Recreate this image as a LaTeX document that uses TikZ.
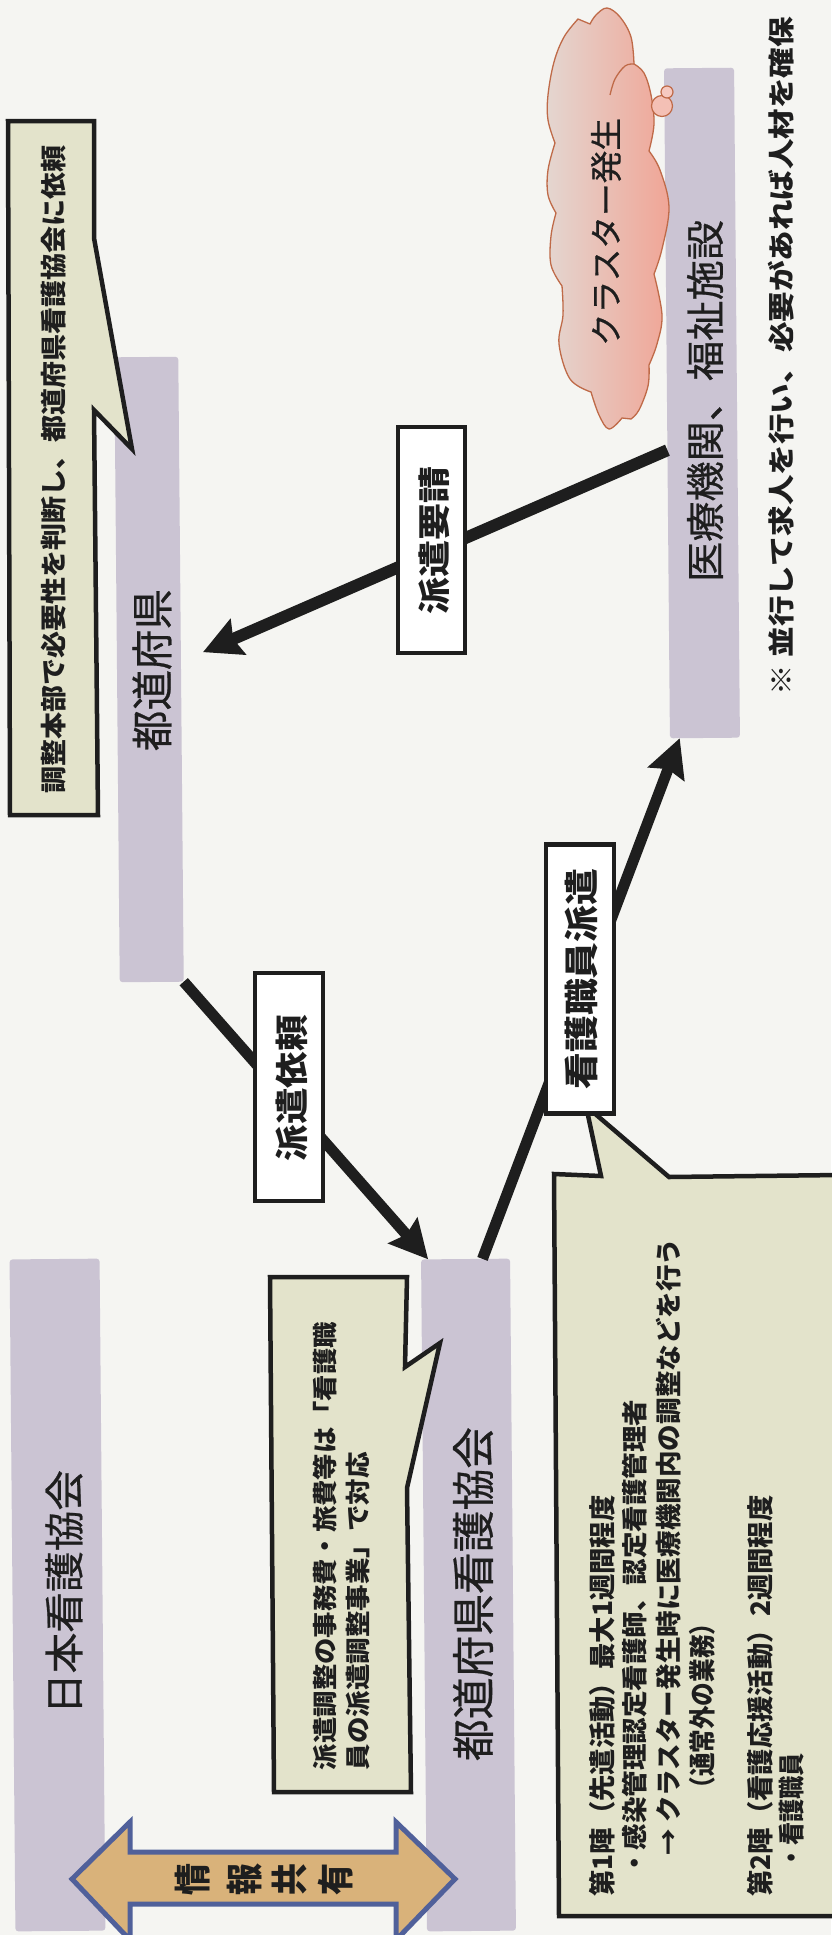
\documentclass[tikz,border=0pt]{standalone}
\usepackage{fontspec}
\usepackage{graphicx}
\setmainfont{Noto Sans CJK JP}
\usetikzlibrary{arrows.meta,calc}
\definecolor{paper}{HTML}{F5F5F2}
\definecolor{barcol}{HTML}{CBC4D3}
\definecolor{callout}{HTML}{E3E3CB}
\definecolor{ink}{HTML}{1E1E1E}
\definecolor{cloudline}{HTML}{BF6A48}
\definecolor{cloudleft}{HTML}{E4D6D0}
\definecolor{cloudright}{HTML}{F0A596}
\definecolor{tan}{HTML}{D9B27A}
\definecolor{navy}{HTML}{50609A}
\tikzset{
  barbox/.style={fill=barcol,rounded corners=3pt,rotate=0.5,inner sep=0,outer sep=0},
  txt/.style={rotate=90,inner sep=0,outer sep=0,text=ink,font=\fontsize{20}{24}\selectfont\addfontfeature{FakeBold=0.6}},
  txtb/.style={rotate=90,inner sep=0,outer sep=0,text=ink,font=\fontsize{20}{24}\selectfont\bfseries},
  labelbox/.style={draw=ink,line width=4.5pt,fill=white,inner sep=0},
  calloutshape/.style={draw=ink,line width=4.5pt,fill=callout,line join=miter},
  flow/.style={draw=ink,line width=11pt,-{Stealth[length=38pt,width=38pt,inset=5pt]}},
}
\newcommand\lbl[6]{\node[#6] (#1) at (#2) {\resizebox*{#3pt}{#4pt}{#5}};}
\begin{document}
\begin{tikzpicture}[x=1pt,y=-1pt]
\useasboundingbox (0,0) rectangle (831,1935);
\fill[paper] (0,0) rectangle (831,1935);
% bars
\node[barbox,minimum width=64pt,minimum height=625pt] (todo) at (149,669.5) {};
\node[barbox,minimum width=70pt,minimum height=670pt] (iryo) at (702,403) {};
\node[barbox,minimum width=90pt,minimum height=672pt] (nihon) at (57.5,1595) {};
\node[barbox,minimum width=89pt,minimum height=672pt] (ken) at (468.5,1595) {};
% cloud
\path[draw=cloudline,line width=1.3pt,left color=cloudleft,right color=cloudright]
  plot[smooth,tension=.6] coordinates {(555,143) (548,120) (548,95) (554,62) (564,37) (578,19)}
  -- plot[smooth,tension=.6] coordinates {(578,19) (590,24)}
  -- plot[smooth,tension=.6] coordinates {(590,24) (596,15) (607,8) (620,17) (631,37) (634,64)}
  -- plot[smooth,tension=.6] coordinates {(634,64) (644,73) (651,95) (654,124) (649,151)}
  -- plot[smooth,tension=.6] coordinates {(649,151) (660,170) (669,207) (662,249) (654,274)}
  -- plot[smooth,tension=.6] coordinates {(654,274) (662,315) (657,344) (649,365)}
  -- plot[smooth,tension=.6] coordinates {(649,365) (648,386) (639,410) (631,419)}
  -- plot[smooth,tension=.6] coordinates {(631,419) (622,418)}
  -- plot[smooth,tension=.6] coordinates {(622,418) (609,429) (599,415) (591,392)}
  -- plot[smooth,tension=.6] coordinates {(591,392) (570,379) (559,344) (563,315) (562,286)}
  -- plot[smooth,tension=.6] coordinates {(562,286) (551,265) (551,236) (556,213)}
  -- plot[smooth,tension=.6] coordinates {(556,213) (548,195) (548,170) (555,143)}
  -- cycle;
\draw[cloudline,line width=1.3pt] plot[smooth,tension=.6] coordinates {(610,95) (615,79) (625,66) (634,64)};
\filldraw[draw=cloudline,line width=1.2pt,fill=cloudright!70!white] (662,106) circle (10.5pt);
\filldraw[draw=cloudline,line width=1.2pt,fill=cloudright!60!white] (667,92) circle (6pt);
% connectors
\draw[flow,line width=12pt,shorten >=24pt] ($(iryo.north west)!0.57!(iryo.south west)$) -- ($(todo.north east)!0.488!(todo.south east)$);
\draw[flow] (todo.south east) -- ($(ken.north west)!0.08!(ken.north east)$);
\draw[flow] ($(ken.north west)!0.69!(ken.north east)$) -- ($(iryo.south west)!0.14!(iryo.south east)$);
% callouts
\draw[calloutshape] (8,121)--(94,121)--(94,238)--(132,449)--(94,410)--(98,815)--(10,815)--cycle;
\draw[calloutshape] (270,1277)--(407,1277)--(405,1367)--(440,1343)--(407,1488)--(411,1792)--(274,1792)--cycle;
\draw[calloutshape] (554,1174)--(601,1176)--(586,1106)--(669,1177)--(840,1175)--(840,1916)--(559,1916)--cycle;
% label boxes
\node[labelbox,minimum width=67pt,minimum height=226pt] (boxA) at (431.5,540) {};
\node[labelbox,minimum width=68pt,minimum height=228pt] (boxB) at (289,1087) {};
\node[labelbox,minimum width=68pt,minimum height=269pt] (boxC) at (580,979) {};
% double arrow
\draw[draw=navy,line width=5pt,fill=tan,line join=miter] (72,1879)--(130,1822)--(130,1852)--(396,1852)--(396,1822)--(455,1879)--(396,1940)--(396,1904)--(130,1904)--(130,1940)--cycle;
% texts
\lbl{t1}{152,670}{162}{39}{都道府県}{txt}
\lbl{t2}{705,401}{362}{36}{医療機関、福祉施設}{txt}
\lbl{t3}{606,232}{228}{30}{クラスター発生}{txt}
\lbl{t4}{434,540}{148}{31}{派遣要請}{txtb}
\lbl{t5}{292,1088}{146}{32}{派遣依頼}{txtb}
\lbl{t6}{582,979}{221}{33}{看護職員派遣}{txtb}
\lbl{t7}{781,356}{678}{26}{※ 並行して求人を行い、必要があれば人材を確保}{txtb}
\lbl{t8}{54,469}{648}{25}{調整本部で必要性を判断し、都道府県看護協会に依頼}{txtb}
\lbl{t9}{64,1592}{244}{37}{日本看護協会}{txt}
\lbl{t10}{473,1594}{334}{40}{都道府県看護協会}{txt}
\lbl{t11}{325,1546}{448}{24}{派遣調整の事務費・旅費等は「看護職}{txtb}
\lbl{t12}{358,1611}{318}{24}{員の派遣調整事業」で対応}{txtb}
\lbl{t13}{602,1696}{401}{26}{第1陣（先遣活動）最大1週間程度}{txtb}
\lbl{t14}{635,1638}{477}{25}{・感染管理認定看護師、認定看護管理者}{txtb}
\lbl{t15}{669,1547}{617}{25}{→ クラスター発生時に医療機関内の調整などを行う}{txtb}
\lbl{t16}{702,1706}{189}{26}{（通常外の業務）}{txtb}
\lbl{t17}{760,1696}{401}{26}{第2陣（看護応援活動）2週間程度}{txtb}
\lbl{t18}{792,1811}{116}{25}{・看護職員}{txtb}
\lbl{s1}{193,1879}{32}{35}{情}{txtb}
\lbl{s2}{245,1879}{32}{35}{報}{txtb}
\lbl{s3}{290,1879}{32}{35}{共}{txtb}
\lbl{s4}{336,1879}{32}{35}{有}{txtb}
\end{tikzpicture}
\end{document}
